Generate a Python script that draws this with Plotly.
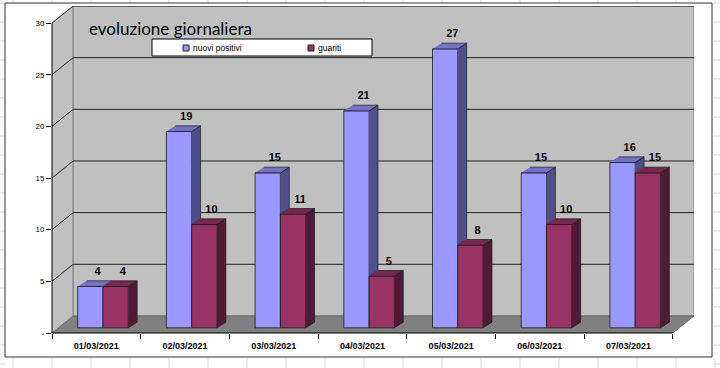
import plotly.graph_objects as go

# ---------------- data ----------------
categories = ["01/03/2021", "02/03/2021", "03/03/2021", "04/03/2021",
              "05/03/2021", "06/03/2021", "07/03/2021"]
nuovi_positivi = [4, 19, 15, 21, 27, 15, 16]
guariti = [4, 10, 11, 5, 8, 10, 15]
series_names = ["nuovi positivi", "guariti"]
y_tick_values = [0, 5, 10, 15, 20, 25, 30]
y_tick_labels = ["-", "5", "10", "15", "20", "25", "30"]

# ---------------- styling / pseudo-3D geometry ----------------
BLUE_FRONT, BLUE_TOP, BLUE_SIDE = "#9999FF", "#7373C6", "#4F4F8C"
RED_FRONT, RED_TOP, RED_SIDE = "#993366", "#76284F", "#4F1A35"
WALL, FLOOR = "#C0C0C0", "#808080"

WALL_DX = 0.238      # depth of the walls (category units)
WALL_DY = 1.65       # depth of the walls (value units)
BAR_W = 0.285
BLUE_OFF = -0.21
RED_OFF = BLUE_OFF + BAR_W
BAR_BASE = 0.5
DX, DY = 0.10, 0.55
YMAX = 30

# plot-area pixel frame (for decorations outside the data)
L, R, T, B = 52, 694, 6, 333
W_PX, H_PX = 720, 368


def px_x(x):
    return (x - L) / (R - L)


def px_y(y):
    return (B - y) / (B - T)


n = len(categories)
xs = list(range(n))
x_lo, x_hi = -0.5, n - 0.5

fig = go.Figure()


def face_trace(polys, color):
    px, py = [], []
    for poly in polys:
        for (a, b) in poly:
            px.append(a)
            py.append(b)
        px.append(None)
        py.append(None)
    return go.Scatter(x=px, y=py, mode="lines", fill="toself", fillcolor=color,
                      line=dict(color="#1a1a1a", width=0.7), hoverinfo="skip",
                      showlegend=False)


# front faces (bars)
fig.add_trace(go.Bar(x=xs, y=nuovi_positivi, base=[BAR_BASE] * n, width=BAR_W,
                     offset=BLUE_OFF, marker=dict(color=BLUE_FRONT,
                     line=dict(color="#1a1a1a", width=0.8)),
                     showlegend=False, name=series_names[0]))
fig.add_trace(go.Bar(x=xs, y=guariti, base=[BAR_BASE] * n, width=BAR_W,
                     offset=RED_OFF, marker=dict(color=RED_FRONT,
                     line=dict(color="#1a1a1a", width=0.8)),
                     showlegend=False, name=series_names[1]))

blue_side, blue_top, red_side, red_top = [], [], [], []
for i in xs:
    bt = BAR_BASE + nuovi_positivi[i]
    rt = BAR_BASE + guariti[i]
    xl = i + BLUE_OFF
    xr = xl + BAR_W
    if bt > rt:
        blue_side.append([(xr, rt), (xr + DX, rt + DY), (xr + DX, bt + DY), (xr, bt)])
    blue_top.append([(xl, bt), (xr, bt), (xr + DX, bt + DY), (xl + DX, bt + DY)])
    xl2 = i + RED_OFF
    xr2 = xl2 + BAR_W
    red_side.append([(xr2, BAR_BASE), (xr2 + DX, BAR_BASE + DY),
                     (xr2 + DX, rt + DY), (xr2, rt)])
    red_top.append([(xl2, rt), (xr2, rt), (xr2 + DX, rt + DY), (xl2 + DX, rt + DY)])

fig.add_trace(face_trace(blue_side, BLUE_SIDE))
fig.add_trace(face_trace(blue_top, BLUE_TOP))
fig.add_trace(face_trace(red_side, RED_SIDE))
fig.add_trace(face_trace(red_top, RED_TOP))

# data labels
label_font = dict(family="Liberation Sans, Arial", size=11, color="black", weight="bold")
fig.add_trace(go.Scatter(
    x=[i + BLUE_OFF + BAR_W / 2 + 0.08 for i in xs],
    y=[BAR_BASE + v + DY + 0.3 for v in nuovi_positivi],
    text=[str(v) for v in nuovi_positivi], mode="text", textposition="top center",
    textfont=label_font, hoverinfo="skip", showlegend=False, cliponaxis=False))
fig.add_trace(go.Scatter(
    x=[i + RED_OFF + BAR_W / 2 + 0.08 for i in xs],
    y=[BAR_BASE + v + DY + 0.3 for v in guariti],
    text=[str(v) for v in guariti], mode="text", textposition="top center",
    textfont=label_font, hoverinfo="skip", showlegend=False, cliponaxis=False))

# ---------------- walls, floor, gridlines ----------------
shapes = []
# spreadsheet cell grid visible around the chart object
for cx in range(13, W_PX + 1, 39):
    for (y0, y1) in [(0, 3), (358, H_PX)]:
        shapes.append(dict(type="line", xref="paper", yref="paper", layer="below",
                           x0=px_x(cx), x1=px_x(cx), y0=px_y(y0), y1=px_y(y1),
                           line=dict(color="#D6D6D6", width=1)))
for ry in range(3, H_PX, 19):
    for (x0, x1) in [(0, 5), (713, W_PX)]:
        shapes.append(dict(type="line", xref="paper", yref="paper", layer="below",
                           x0=px_x(x0), x1=px_x(x1), y0=px_y(ry), y1=px_y(ry),
                           line=dict(color="#D6D6D6", width=1)))
# side wall
shapes.append(dict(type="path", xref="x", yref="y", layer="below",
                   path=f"M{x_lo},0 L{x_lo},{YMAX} L{x_lo + WALL_DX},{YMAX + WALL_DY} "
                        f"L{x_lo + WALL_DX},{WALL_DY} Z",
                   fillcolor=WALL, line=dict(width=0)))
# back wall
shapes.append(dict(type="rect", xref="x", yref="y", layer="below",
                   x0=x_lo + WALL_DX, x1=x_hi + WALL_DX, y0=WALL_DY, y1=YMAX + WALL_DY,
                   fillcolor=WALL, line=dict(color="#8a8a8a", width=1)))
# floor
shapes.append(dict(type="path", xref="x", yref="y", layer="below",
                   path=f"M{x_lo},0 L{x_hi},0 L{x_hi + WALL_DX},{WALL_DY} "
                        f"L{x_lo + WALL_DX},{WALL_DY} Z",
                   fillcolor=FLOOR, line=dict(color="#555", width=0.7)))
# wall corner
shapes.append(dict(type="line", xref="x", yref="y", layer="below",
                   x0=x_lo + WALL_DX, x1=x_lo + WALL_DX, y0=WALL_DY, y1=YMAX + WALL_DY,
                   line=dict(color="#8a8a8a", width=1)))
for v in y_tick_values[1:]:
    shapes.append(dict(type="line", xref="x", yref="y", layer="below",
                       x0=x_lo + WALL_DX, x1=x_hi + WALL_DX, y0=v + WALL_DY, y1=v + WALL_DY,
                       line=dict(color="#202020", width=1)))
    shapes.append(dict(type="line", xref="x", yref="y", layer="below",
                       x0=x_lo, x1=x_lo + WALL_DX, y0=v, y1=v + WALL_DY,
                       line=dict(color="#202020", width=1)))
# axis lines
shapes.append(dict(type="line", xref="paper", yref="y", x0=0, x1=0, y0=0, y1=YMAX,
                   line=dict(color="black", width=1)))
shapes.append(dict(type="line", xref="x", yref="paper", x0=x_lo, x1=x_hi, y0=0, y1=0,
                   line=dict(color="black", width=1)))
# chart border
shapes.append(dict(type="rect", xref="paper", yref="paper",
                   x0=px_x(5), x1=px_x(712), y0=px_y(357), y1=px_y(3),
                   line=dict(color="#333", width=1), fillcolor="rgba(0,0,0,0)"))

# legend box (drawn like the Excel legend)
shapes.append(dict(type="rect", xref="paper", yref="paper",
                   x0=px_x(152), x1=px_x(372), y0=px_y(56), y1=px_y(39),
                   line=dict(color="black", width=1), fillcolor="white"))
legend_items = [(series_names[0], BLUE_FRONT, 183), (series_names[1], RED_FRONT, 308)]
annotations = [dict(text="evoluzione giornaliera", xref="paper", yref="paper",
                    x=px_x(87), y=px_y(29), xanchor="left", yanchor="middle",
                    showarrow=False, font=dict(family="Lato", size=17, color="black"))]
for name, col, sx in legend_items:
    shapes.append(dict(type="rect", xref="paper", yref="paper",
                       x0=px_x(sx), x1=px_x(sx + 6), y0=px_y(51), y1=px_y(45),
                       line=dict(color="#222", width=1), fillcolor=col))
    annotations.append(dict(text=name, xref="paper", yref="paper",
                            x=px_x(sx + 8), y=px_y(48), xanchor="left", yanchor="middle",
                            showarrow=False,
                            font=dict(family="Liberation Sans, Arial", size=8.5,
                                      color="black")))

fig.update_layout(
    width=W_PX, height=H_PX,
    margin=dict(l=L, r=W_PX - R, t=T, b=H_PX - B),
    paper_bgcolor="white", plot_bgcolor="white",
    barmode="overlay",
    shapes=shapes,
    annotations=annotations,
    font=dict(family="Liberation Sans, Arial", size=8, color="black"),
    showlegend=False,
    xaxis=dict(range=[x_lo, x_hi + WALL_DX], tickvals=xs, ticktext=categories,
               showgrid=False, zeroline=False, showline=False, ticks="",
               tickfont=dict(family="Liberation Sans, Arial", size=9, weight="bold"),
               ticklabelstandoff=6,
               minor=dict(ticks="outside", ticklen=5, tickcolor="black",
                          tickmode="linear", tick0=0.5, dtick=1, showgrid=False)),
    yaxis=dict(range=[0, YMAX + WALL_DY], tickvals=y_tick_values, ticktext=y_tick_labels,
               showgrid=False, zeroline=False, showline=False,
               ticks="outside", ticklen=5, tickcolor="black",
               tickfont=dict(family="Liberation Sans, Arial", size=8)),
)

fig.write_html("out.html", config={"displayModeBar": False},
               post_script="document.body.style.margin='0';")
